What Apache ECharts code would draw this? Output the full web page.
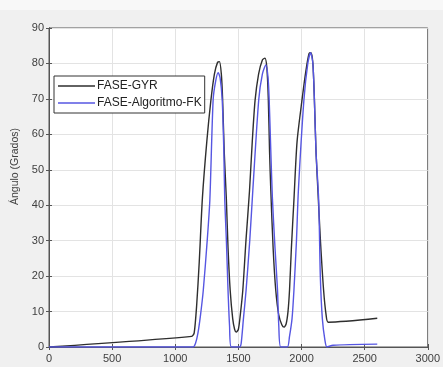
<!DOCTYPE html>
<html><head><meta charset="utf-8">
<script src="https://cdn.jsdelivr.net/npm/echarts@6/dist/echarts.min.js"></script>
<style>html,body{margin:0;padding:0;background:#f0f0f0}#c{width:443px;height:367px}</style>
</head><body><div id="c"></div>
<script>
var seriesNames = ['FASE-GYR', 'FASE-Algoritmo-FK'];
var xTicks = [0, 500, 1000, 1500, 2000, 2500, 3000];
var yTicks = [0, 10, 20, 30, 40, 50, 60, 70, 80, 90];
var gyrX = [0,1130,1150,1170,1190,1215,1250,1282,1310,1335,1350,1365,1375,1388,1405,1418,1435,1455,1470,1483,1500,1515,1535,1560,1588,1610,1632,1660,1690,1710,1725,1737,1747,1757,1775,1796,1820,1845,1862,1878,1893,1905,1920,1940,1965,2005,2035,2060,2075,2090,2102,2115,2130,2150,2175,2195,2212,2600];
var gyrY = [0,3,4,12,24,42,58,69.5,77,80.3,80.5,77,70,55,41.5,28,16,8,5,4.2,5,9,16,30,44,58,69.5,77,81,81.5,79,70,55,44,28,16,9,6.2,5.6,6.5,10,16,28,41.5,58,70,78,82.8,83,80,70,55,44,30,16,9,7,8.1];
var fkX = [0,1140,1160,1180,1200,1222,1253,1274,1300,1320,1340,1355,1372,1385,1392,1405,1418,1430,1444,1510,1522,1540,1561,1590,1614,1661,1690,1718,1735,1744,1757,1770,1790,1810,1820,1835,1888,1905,1925,1940,1960,1975,2019,2050,2072,2090,2102,2115,2136,2149,2165,2185,2201,2250,2600];
var fkY = [0,0,1,4,9,16,30,41.5,69.7,75,77.4,76,69.7,55,41.5,30,16,6,0,0,1,8,16,30,44,69.7,77,79.6,76,69.7,55,41.5,28,16,6,0,0,3,8,16,30,44,69.7,80,83,80,69.7,55,41.5,20,8,2,0,0.5,0.8];

function pairs(xs, ys){ return xs.map(function(x,i){ return [x, ys[i]]; }); }

var chart = echarts.init(document.getElementById('c'), null, {renderer:'canvas'});
var labelStyle = {color:'#404040', fontSize:11, fontFamily:'Liberation Sans, Arial, sans-serif'};
chart.setOption({
  backgroundColor:'#f0f0f0',
  animation:false,
  graphic:[
    {type:'rect', shape:{x:0,y:0,width:443,height:10}, style:{fill:'#f8f8f8'}, z:-10},
    {type:'text', left:10, top:128, rotation:Math.PI/2, originX:0, originY:0,
     style:{text:'Ángulo (Grados)', fill:'#404040', font:'10.5px "Liberation Sans", Arial, sans-serif'}}
  ],
  grid:{left:49, right:11, top:28, bottom:20, show:true, backgroundColor:'#ffffff', borderColor:'#555', borderWidth:1},
  legend:{
    orient:'vertical', left:54, top:76, data:seriesNames,
    icon:'rect', itemWidth:37, itemHeight:1.5, itemGap:3,
    backgroundColor:'#ffffff', borderColor:'#333', borderWidth:1, borderRadius:0, padding:[3,3,3,4],
    textStyle:{color:'#222', fontSize:12, lineHeight:14, fontFamily:'Liberation Sans, Arial, sans-serif', padding:[0,0,0,-3]}
  },
  xAxis:[{type:'value', min:0, max:3000, interval:500,
    axisLine:{show:true, lineStyle:{color:'#555'}},
    axisTick:{show:true, inside:true, length:3, lineStyle:{color:'#555'}},
    axisLabel:Object.assign({margin:6, formatter:function(v){return xTicks.indexOf(v)>=0?String(v):'';}}, labelStyle),
    splitLine:{show:true, lineStyle:{color:'#e3e3e3', width:1}}},
    {type:'value', position:'top', min:0, max:3000, interval:500,
    axisLine:{show:true, lineStyle:{color:'#555'}},
    axisTick:{show:true, inside:true, length:3, lineStyle:{color:'#555'}},
    axisLabel:{show:false}, splitLine:{show:false}}],
  yAxis:[{type:'value', min:0, max:90, interval:10,
    axisLine:{show:true, lineStyle:{color:'#555'}},
    axisTick:{show:true, inside:true, length:3, lineStyle:{color:'#555'}},
    axisLabel:Object.assign({margin:5, formatter:function(v){return yTicks.indexOf(v)>=0?String(v):'';}}, labelStyle),
    splitLine:{show:true, lineStyle:{color:'#e3e3e3', width:1}}},
    {type:'value', position:'right', min:0, max:90, interval:10,
    axisLine:{show:true, lineStyle:{color:'#555'}},
    axisTick:{show:true, inside:true, length:3, lineStyle:{color:'#555'}},
    axisLabel:{show:false}, splitLine:{show:false}}],
  series:[
    {name:seriesNames[0], type:'line', data:pairs(gyrX, gyrY), symbol:'none', smooth:0.25,
     lineStyle:{color:'#2e2e2e', width:1.4}, itemStyle:{color:'#2e2e2e'}, z:2},
    {name:seriesNames[1], type:'line', data:pairs(fkX, fkY), symbol:'none', smooth:0.25,
     lineStyle:{color:'#5656e2', width:1.4}, itemStyle:{color:'#5656e2'}, z:3}
  ]
});
</script></body></html>
